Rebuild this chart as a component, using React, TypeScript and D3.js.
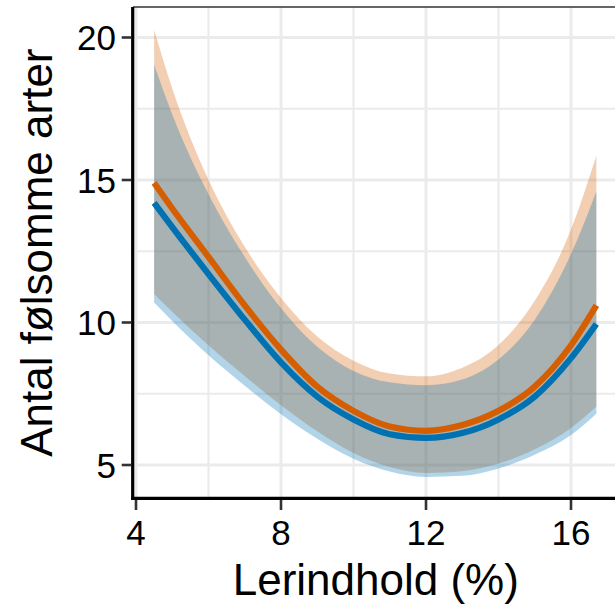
import React from "react";
import * as d3 from "d3";

const xValues = [4.5, 5, 6, 7, 8, 9, 10, 11, 12, 13, 14, 15, 16, 16.7];
const orangeFit = [14.9, 14.0, 12.3, 10.6, 9.05, 7.75, 6.9, 6.35, 6.2, 6.4, 6.9, 7.75, 9.2, 10.6];
const orangeUpper = [20.26, 18.21, 15.01, 12.66, 10.86, 9.51, 8.66, 8.21, 8.11, 8.41, 9.21, 10.76, 13.26, 15.85];
const orangeLower = [11.0, 10.38, 9.2, 8.12, 7.1, 6.18, 5.42, 4.93, 4.72, 4.78, 5.05, 5.55, 6.3, 7.05];
const blueFit = [14.2, 13.35, 11.7, 10.1, 8.6, 7.4, 6.6, 6.08, 5.95, 6.12, 6.6, 7.4, 8.75, 9.95];
const blueUpper = [19.04, 17.3, 14.5, 12.3, 10.5, 9.15, 8.3, 7.9, 7.8, 8.0, 8.7, 10.1, 12.4, 14.6];
const blueLower = [10.7, 10.05, 8.85, 7.78, 6.78, 5.92, 5.22, 4.77, 4.58, 4.62, 4.88, 5.36, 6.05, 6.8];

const xTicks = [4, 8, 12, 16];
const xMinor = [6, 10, 14, 18];
const yTicks = [5, 10, 15, 20];
const yMinor = [7.5, 12.5, 17.5];

const xTitle = "Lerindhold (%)";
const yTitle = "Antal følsomme arter";

const ORANGE = "#D55E00";
const BLUE = "#0072B2";

export default function App() {
  const W = 615;
  const H = 606;
  const left = 133;
  const right = 618.6;
  const top = 7;
  const bottom = 498.3;

  const x = d3.scaleLinear().domain([4, 16]).range([136, 571]);
  const y = d3.scaleLinear().domain([5, 20]).range([465, 37.5]);

  const curve = d3.curveMonotoneX;
  const line = (vals: number[]) =>
    d3
      .line<number>()
      .x((_, i) => x(xValues[i]))
      .y((v) => y(v))
      .curve(curve)(vals) as string;
  const area = (lo: number[], hi: number[]) =>
    d3
      .area<number>()
      .x((_, i) => x(xValues[i]))
      .y0((_, i) => y(lo[i]))
      .y1((_, i) => y(hi[i]))
      .curve(curve)(xValues) as string;

  const font = "'Liberation Sans', Arial, Helvetica, sans-serif";

  return (
    <svg
      width={W}
      height={H}
      style={{ position: "absolute", left: 0, top: 0, background: "#fff" }}
      fontFamily={font}
    >
      <defs>
        <clipPath id="panel">
          <rect x={left} y={top} width={right - left} height={bottom - top} />
        </clipPath>
      </defs>
      <rect x={0} y={0} width={W} height={H} fill="#fff" />
      <g clipPath="url(#panel)">
        {yMinor.map((v) => (
          <line key={"ym" + v} x1={left} x2={right} y1={y(v)} y2={y(v)} stroke="#EBEBEB" strokeWidth={2.2} />
        ))}
        {xMinor.map((v) => (
          <line key={"xm" + v} x1={x(v)} x2={x(v)} y1={top} y2={bottom} stroke="#EBEBEB" strokeWidth={2.2} />
        ))}
        {yTicks.map((v) => (
          <line key={"yg" + v} x1={left} x2={right} y1={y(v)} y2={y(v)} stroke="#EBEBEB" strokeWidth={3} />
        ))}
        {xTicks.map((v) => (
          <line key={"xg" + v} x1={x(v)} x2={x(v)} y1={top} y2={bottom} stroke="#EBEBEB" strokeWidth={3} />
        ))}
        <path d={area(orangeLower, orangeUpper)} fill={ORANGE} fillOpacity={0.3} />
        <path d={area(blueLower, blueUpper)} fill={BLUE} fillOpacity={0.3} />
        <path d={line(orangeFit)} fill="none" stroke={ORANGE} strokeWidth={6.2} />
        <path d={line(blueFit)} fill="none" stroke={BLUE} strokeWidth={6.2} />
      </g>
      <line x1={left} x2={right} y1={top} y2={top} stroke="#333" strokeWidth={1.5} />
      <line x1={left - 0.3} x2={left - 0.3} y1={top} y2={bottom + 1.6} stroke="#000" strokeWidth={3.2} />
      <line x1={left - 1.9} x2={right} y1={bottom} y2={bottom} stroke="#000" strokeWidth={3.2} />
      {yTicks.map((v) => (
        <g key={"yt" + v}>
          <line x1={121.7} x2={131} y1={y(v)} y2={y(v)} stroke="#333" strokeWidth={2.6} />
          <text x={116} y={y(v)} dy="0.36em" textAnchor="end" fontSize={35} fill="#000">
            {v}
          </text>
        </g>
      ))}
      {xTicks.map((v) => (
        <g key={"xt" + v}>
          <line x1={x(v)} x2={x(v)} y1={500} y2={510} stroke="#333" strokeWidth={2.6} />
          <text x={x(v)} y={545} textAnchor="middle" fontSize={35} fill="#000">
            {v}
          </text>
        </g>
      ))}
      <text x={(left + right) / 2} y={595} textAnchor="middle" fontSize={44} fill="#000">
        {xTitle}
      </text>
      <text
        transform={`translate(52, ${(top + bottom) / 2}) rotate(-90)`}
        textAnchor="middle"
        fontSize={44}
        fill="#000"
      >
        {yTitle}
      </text>
    </svg>
  );
}
